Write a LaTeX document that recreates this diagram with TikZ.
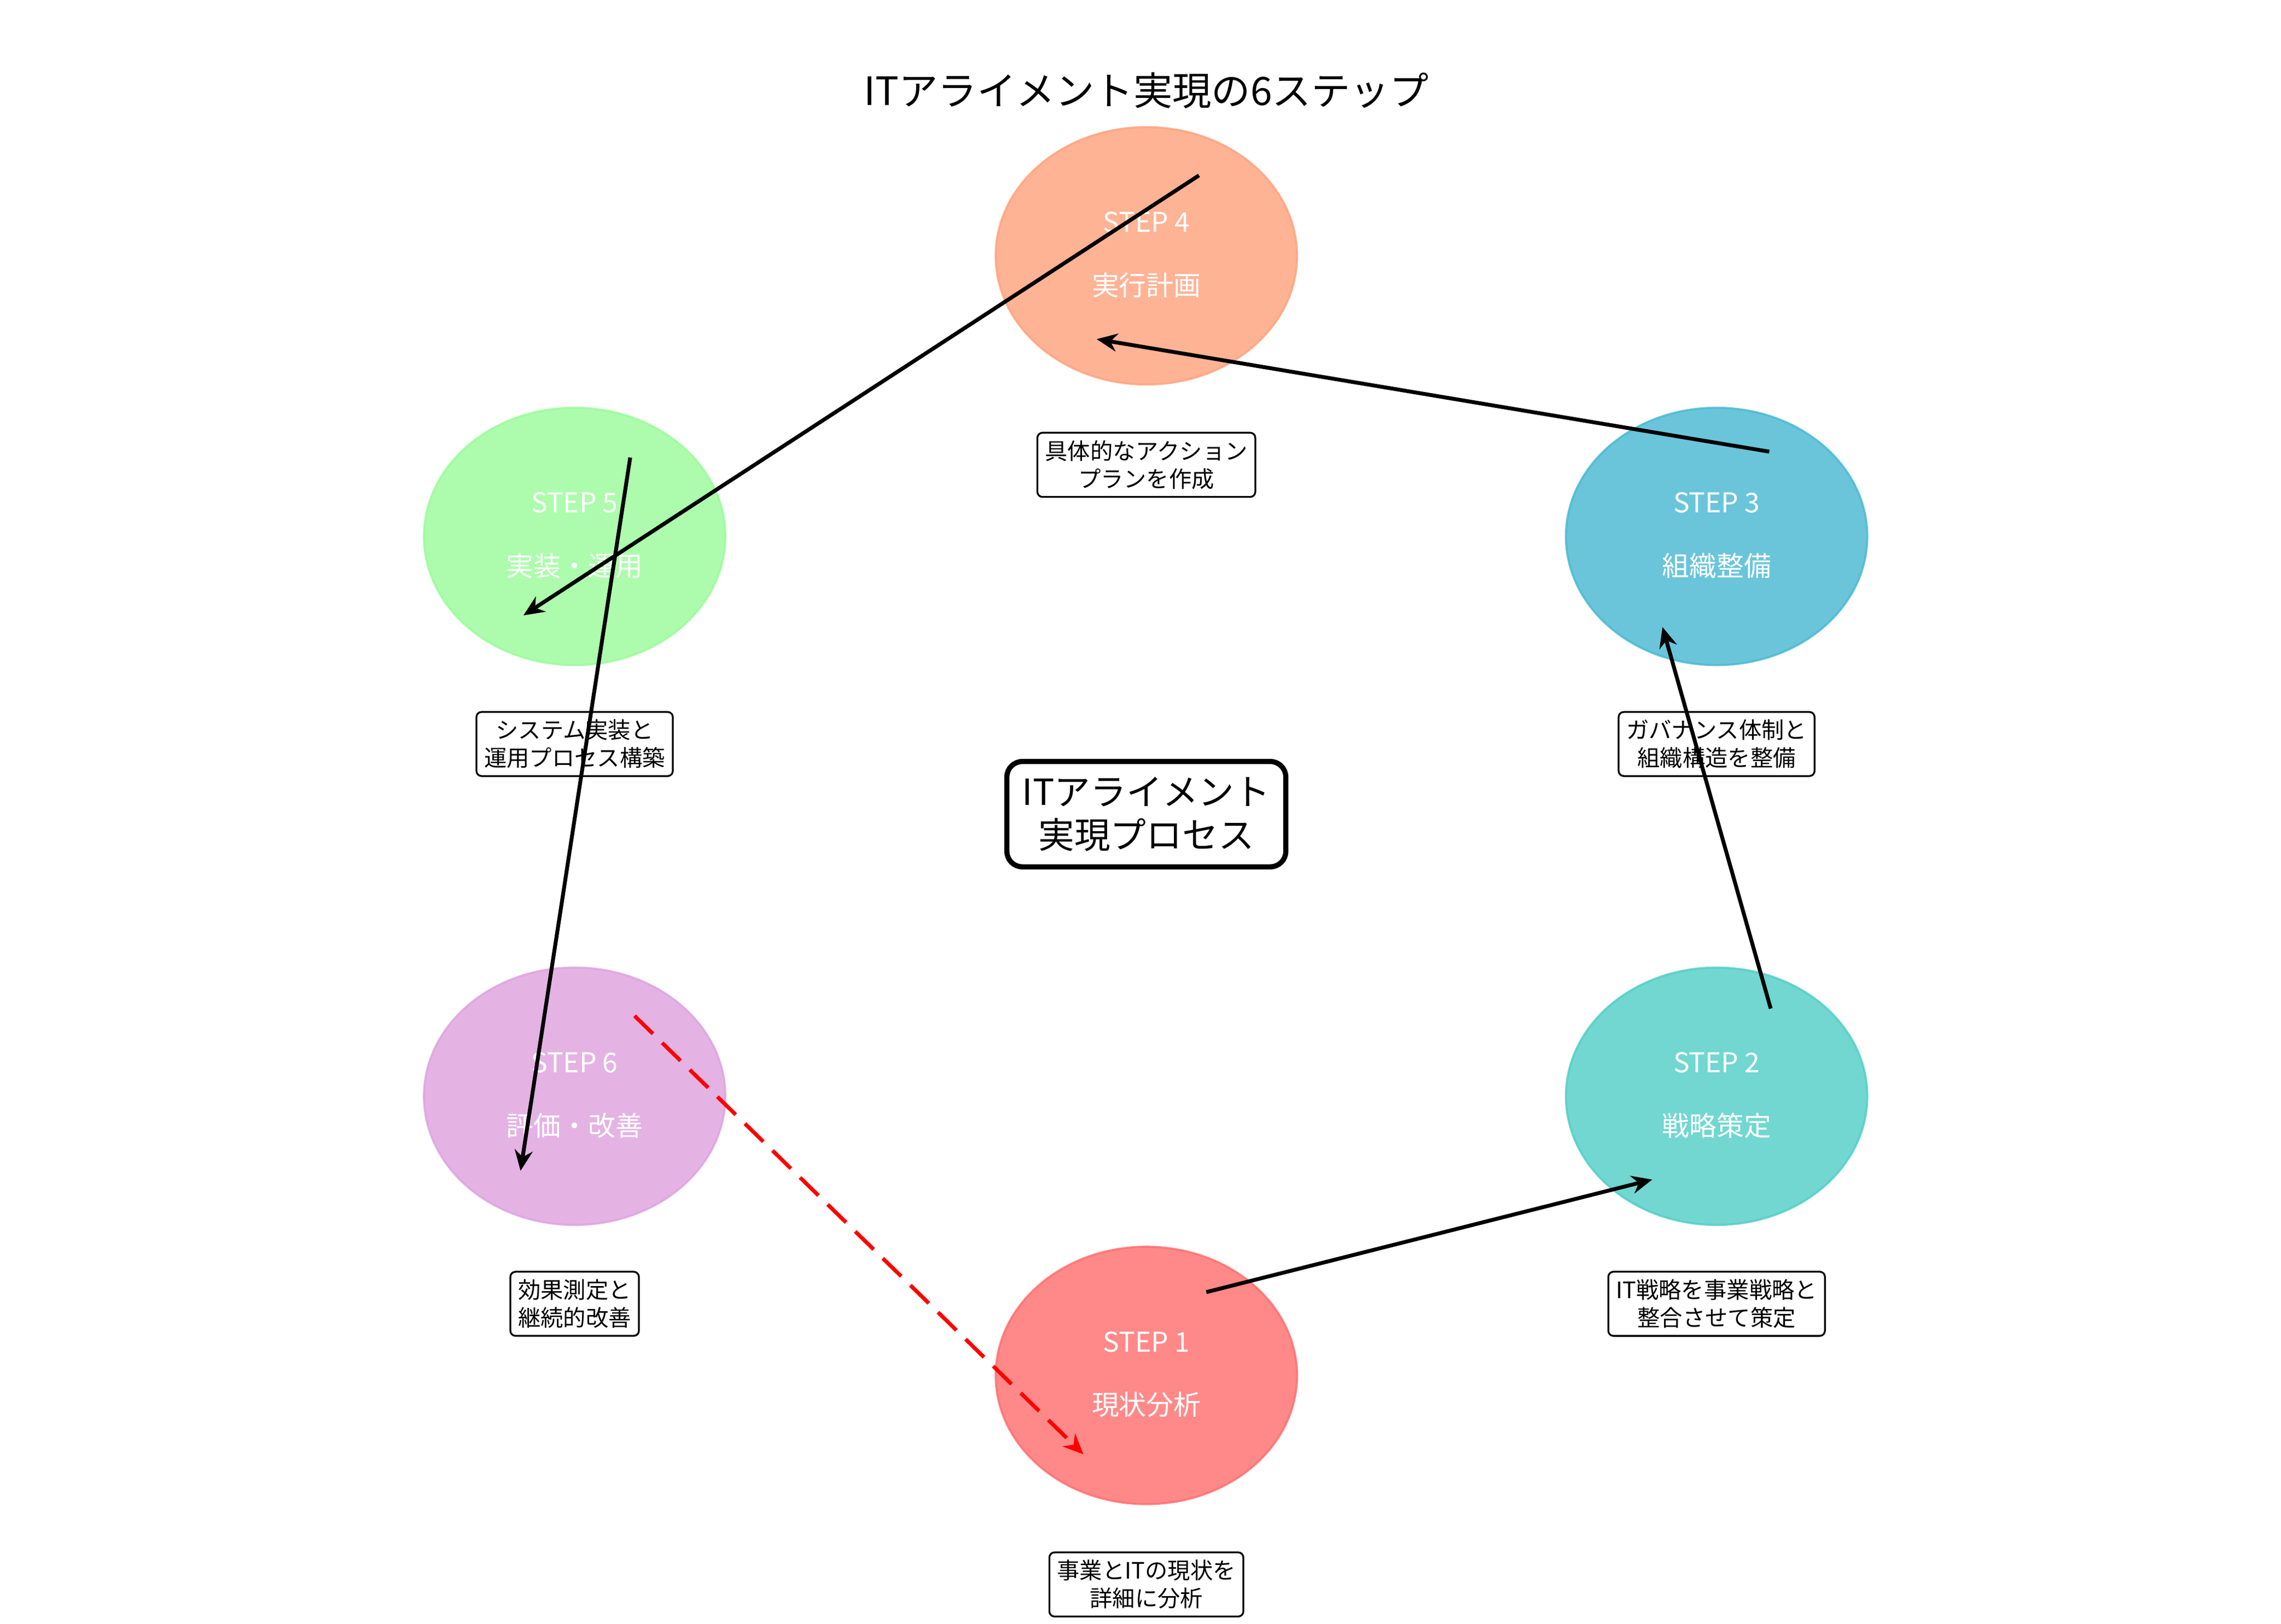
\documentclass[tikz,border=0pt]{standalone}
\usepackage{fontspec}
\setmainfont{Noto Sans CJK JP}
\usetikzlibrary{arrows.meta,shapes.geometric}
\definecolor{cOne}{HTML}{FF6B6B}
\definecolor{cTwo}{HTML}{4ECDC4}
\definecolor{cThree}{HTML}{45B7D1}
\definecolor{cFour}{HTML}{FFA07A}
\definecolor{cFive}{HTML}{98FB98}
\definecolor{cSix}{HTML}{DDA0DD}
\tikzset{stepcircle/.style={ellipse,minimum width=2.06cm,minimum height=1.76cm,inner sep=0pt},
         steptxt/.style={text=white,font=\fontsize{5.3}{6}\selectfont},
         descbox/.style={draw,rounded corners=1pt,line width=0.35pt,align=center,
                         inner sep=1.5pt,font=\fontsize{4.4}{5.4}\selectfont},
         flow/.style={-{Stealth[length=4pt,width=3.5pt]},line width=0.75pt}}
\begin{document}
\begin{tikzpicture}[x=0.01cm,y=-0.01cm]
  \useasboundingbox (0,0) rectangle (1560,1111);
  % step ellipses
  \node[stepcircle,fill=cOne,draw=cOne,opacity=0.8] (s1) at (784,941) {};
  \node[stepcircle,fill=cTwo,draw=cTwo,opacity=0.8] (s2) at (1174,750) {};
  \node[stepcircle,fill=cThree,draw=cThree,opacity=0.8] (s3) at (1174,367) {};
  \node[stepcircle,fill=cFour,draw=cFour,opacity=0.8] (s4) at (784,175) {};
  \node[stepcircle,fill=cFive,draw=cFive,opacity=0.8] (s5) at (393,367) {};
  \node[stepcircle,fill=cSix,draw=cSix,opacity=0.8] (s6) at (393,750) {};
  % texts inside
  \node[steptxt] (t1a) at (784,918) {STEP 1};
  \node[steptxt] (t1b) at (784,961) {現状分析};
  \node[steptxt] (t2a) at (1174,727) {STEP 2};
  \node[steptxt] (t2b) at (1174,770) {戦略策定};
  \node[steptxt] (t3a) at (1174,344) {STEP 3};
  \node[steptxt] (t3b) at (1174,387) {組織整備};
  \node[steptxt] (t4a) at (784,152) {STEP 4};
  \node[steptxt] (t4b) at (784,195) {実行計画};
  \node[steptxt] (t5a) at (393,344) {STEP 5};
  \node[steptxt] (t5b) at (393,387) {実装・運用};
  \node[steptxt] (t6a) at (393,727) {STEP 6};
  \node[steptxt] (t6b) at (393,770) {評価・改善};
  % descriptions
  \node[descbox] (d1) at (784,1084) {事業とITの現状を\\詳細に分析};
  \node[descbox] (d2) at (1174,892) {IT戦略を事業戦略と\\整合させて策定};
  \node[descbox] (d3) at (1174,509) {ガバナンス体制と\\組織構造を整備};
  \node[descbox] (d4) at (784,318) {具体的なアクション\\プランを作成};
  \node[descbox] (d5) at (393,509) {システム実装と\\運用プロセス構築};
  \node[descbox] (d6) at (393,892) {効果測定と\\継続的改善};
  % title and centre
  \node[font=\fontsize{7.6}{9}\selectfont] (title) at (784,62) {ITアライメント実現の6ステップ};
  \node[draw,line width=1pt,rounded corners=3pt,align=center,inner sep=3pt,
        font=\fontsize{7}{8.4}\selectfont] (core) at (784,557) {ITアライメント\\実現プロセス};
  % arrows
  \coordinate (a1) at (825,884);  \coordinate (b1) at (1130,807);
  \coordinate (a2) at (1211,690); \coordinate (b2) at (1137,429);
  \coordinate (a3) at (1210,309); \coordinate (b3) at (750,232);
  \coordinate (a4) at (820,120);  \coordinate (b4) at (358,421);
  \coordinate (a5) at (431,313);  \coordinate (b5) at (356,801);
  \coordinate (a6) at (434,695);  \coordinate (b6) at (741,995);
  \draw[flow] (a1) -- (b1);
  \draw[flow] (a2) -- (b2);
  \draw[flow] (a3) -- (b3);
  \draw[flow] (a4) -- (b4);
  \draw[flow] (a5) -- (b5);
  \draw[flow,red,dashed,dash pattern=on 5pt off 2.5pt] (a6) -- (b6);
\end{tikzpicture}
\end{document}
